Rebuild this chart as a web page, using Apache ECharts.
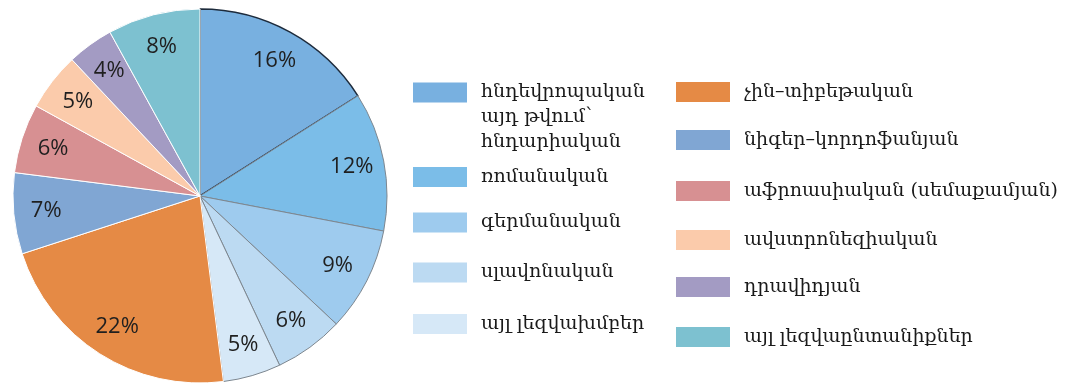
<!DOCTYPE html>
<html><head><meta charset="utf-8">
<script src="https://cdn.jsdelivr.net/npm/echarts@6/dist/echarts.min.js"></script>
<style>html,body{margin:0;padding:0;background:#fff}#c{width:1065px;height:385px}</style>
</head><body><div id="c"></div>
<script>
const categories = [
  'հնդեվրոպական\nայդ թվում՝\nհնդարիական',
  'ռոմանական',
  'գերմանական',
  'սլավոնական',
  'այլ լեզվախմբեր',
  'չին–տիբեթական',
  'նիգեր–կորդոֆանյան',
  'աֆրոասիական (սեմաքամյան)',
  'ավստրոնեզիական',
  'դրավիդյան',
  'այլ լեզվաընտանիքներ'
];
const shares = [16, 12, 9, 6, 5, 22, 7, 6, 5, 4, 8];

const sliceColors = ['#78b0e0','#7bbde8','#9ecbee','#bcdaf2','#d6e8f7','#e58a45','#80a6d3','#d79092','#fbcbab','#a39bc3','#7dc1d0'];

function borderFor(i){
  if (i === 0) return {borderColor:'#1d2b3c', borderWidth:1.5};
  if (i <= 4) return {borderColor:'#7d8790', borderWidth:1};
  return {borderColor:'#ffffff', borderWidth:1};
}

const mainData = categories.map((n,i)=>({name:n, value:shares[i], itemStyle:Object.assign({color:sliceColors[i]}, borderFor(i))}));
const labelData = categories.map((n,i)=>({name:n, value:shares[i]}));

const LH = 25;
const leftX = 413, rightX = 676;
const leftCenters = [92.5, 177, 222.5, 272.5, 324];
const rightCenters = [92, 140, 191, 240, 287, 337];

const legends = categories.map((n,i)=>{
  const isLeft = i < 5;
  const cy = isLeft ? leftCenters[i] : rightCenters[i-5];
  const multi = n.indexOf('\n') >= 0;
  return {
    data:[n],
    left: isLeft ? leftX : rightX,
    top: multi ? cy - LH*2.5 : cy - LH/2,
    orient:'vertical',
    padding:0, itemGap:0,
    itemWidth:54, itemHeight:20,
    icon:'rect',
    selectedMode:false,
    itemStyle:{borderWidth:0},
    formatter: multi ? (name)=>'\n\n'+name : (name)=>name,
    textStyle:{fontFamily:'DejaVu Serif', fontSize:19, color:'#1a1a1a', lineHeight:LH, padding:[0,0,0,9]}
  };
});

const chart = echarts.init(document.getElementById('c'), null, {renderer:'canvas'});
chart.setOption({
  animation:false,
  backgroundColor:'#ffffff',
  legend: legends,
  series:[
    {
      type:'pie', center:[200,196], radius:187, startAngle:90, clockwise:true,
      silent:true, label:{show:false}, labelLine:{show:false},
      data: mainData
    },
    {
      type:'pie', center:[200,196], radius:[116,187], startAngle:90, clockwise:true,
      silent:true, itemStyle:{color:'rgba(0,0,0,0)', borderWidth:0},
      label:{show:true, position:'inside', formatter:'{c}%', fontFamily:'Open Sans', fontSize:22, color:'#1f1f1f'},
      labelLine:{show:false},
      data: labelData
    }
  ]
});
</script></body></html>
